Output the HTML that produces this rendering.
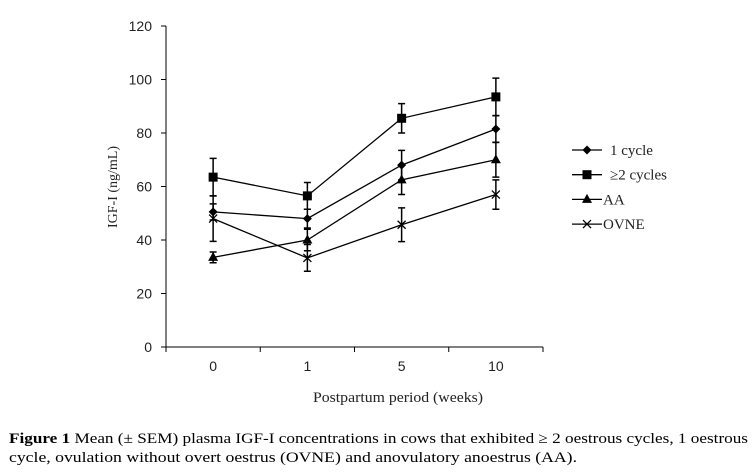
<!DOCTYPE html>
<html><head><meta charset="utf-8"><style>
html,body{margin:0;padding:0;background:#fff;}
svg{display:block;}
</style></head><body>
<svg id="chart" width="753" height="472" xmlns="http://www.w3.org/2000/svg">
<g id="axes"></g><g id="series"></g><g id="legend"></g>
<text x="313" y="402" textLength="170" lengthAdjust="spacingAndGlyphs" font-family="Liberation Serif, serif" font-size="15" fill="#222">Postpartum period (weeks)</text>
<text transform="translate(117,187) rotate(-90)" text-anchor="middle" font-family="Liberation Serif, serif" font-size="14" fill="#222">IGF-I (ng/mL)</text>
<text x="9" y="443" textLength="739" lengthAdjust="spacingAndGlyphs" font-family="Liberation Serif, serif" font-size="15" fill="#000"><tspan font-weight="bold">Figure 1</tspan> Mean (± SEM) plasma IGF-I concentrations in cows that exhibited ≥ 2 oestrous cycles, 1 oestrous</text>
<text x="9" y="462" textLength="568" lengthAdjust="spacingAndGlyphs" font-family="Liberation Serif, serif" font-size="15" fill="#000">cycle, ovulation without overt oestrus (OVNE) and anovulatory anoestrus (AA).</text>
</svg>
<script>
const categories = ["0","1","5","10"];
const yTicks = [0,20,40,60,80,100,120];
const seriesNames = ["1 cycle","≥2 cycles","AA","OVNE"];
const oneCycle = [50.5,48,68,81.5];
const oneCycleErr = [3,3.5,5.5,5];
const twoCycles = [63.5,56.5,85.5,93.5];
const twoCyclesErr = [7,5,5.5,7];
const aa = [33.5,40,62.5,70];
const aaErr = [2,4,5.5,6.5];
const ovne = [48,33.3,45.7,57];
const ovneErr = [8.5,5,6.3,5.5];

const NS="http://www.w3.org/2000/svg";
const x0=166,x1=543,yBase=347,yTop=26;
const y=v=>yBase-(v/120)*(yBase-yTop);
const bw=(x1-x0)/categories.length;
const x=i=>x0+bw*(i+0.5);
function mk(tag,attrs,parent){const e=document.createElementNS(NS,tag);for(const k in attrs)e.setAttribute(k,attrs[k]);parent.appendChild(e);return e;}
const axes=document.getElementById('axes');
let e=mk('line',{x1:x0,y1:yTop,x2:x0,y2:yBase,stroke:'#000'},axes);


e=mk('line',{x1:x0,y1:yBase,x2:x1,y2:yBase,stroke:'#000'},axes);


yTicks.forEach(t=>{
  mk('line',{x1:x0-5,y1:y(t),x2:x0,y2:y(t),stroke:'#000'},axes);
  const tx=mk('text',{x:x0-14,y:y(t)+5,'text-anchor':'end','font-family':'Liberation Sans, sans-serif','font-size':'14',fill:'#222'},axes);
  tx.textContent=t;
  
  
});
for(let i=0;i<=categories.length;i++){mk('line',{x1:x0+bw*i,y1:yBase,x2:x0+bw*i,y2:yBase+5,stroke:'#000'},axes);}
categories.forEach((c,i)=>{
  const tx=mk('text',{x:x(i),y:yBase+24,'text-anchor':'middle','font-family':'Liberation Sans, sans-serif','font-size':'14',fill:'#222'},axes);
  tx.textContent=c;
  
  
});
function marker(type,cx,cy,p){
  if(type==='diamond') return mk('polygon',{points:`${cx},${cy-4.5} ${cx+4.5},${cy} ${cx},${cy+4.5} ${cx-4.5},${cy}`,fill:'#000'},p);
  if(type==='square') return mk('rect',{x:cx-4.5,y:cy-4.5,width:9,height:9,fill:'#000'},p);
  if(type==='triangle') return mk('polygon',{points:`${cx},${cy-5.5} ${cx+5},${cy+3.5} ${cx-5},${cy+3.5}`,fill:'#000'},p);
  return mk('path',{d:`M${cx-4},${cy-4}L${cx+4},${cy+4}M${cx-4},${cy+4}L${cx+4},${cy-4}`,stroke:'#000','stroke-width':1.3},p);
}
const all=[[oneCycle,oneCycleErr,'diamond','series-1-cycle'],[twoCycles,twoCyclesErr,'square','series-2-cycles'],[aa,aaErr,'triangle','series-aa'],[ovne,ovneErr,'cross','series-ovne']];
const sg=document.getElementById('series');
all.forEach(([vals,errs,m,name])=>{
  const g=mk('g',{},sg);
  
  
  vals.forEach((v,i)=>{
    const hi=y(v+errs[i]),lo=y(v-errs[i]),cx=x(i);
    mk('path',{d:`M${cx},${hi}L${cx},${lo}M${cx-3.5},${hi}L${cx+3.5},${hi}M${cx-3.5},${lo}L${cx+3.5},${lo}`,stroke:'#000','stroke-width':1.5},g);
  });
  const pl=mk('polyline',{points:vals.map((v,i)=>x(i)+','+y(v)).join(' '),fill:'none',stroke:'#000','stroke-width':1.3},g);
  
  
  vals.forEach((v,i)=>{
    const mm=marker(m,x(i),y(v),g);
    
    
  });
});
const lg=document.getElementById('legend');
seriesNames.forEach((n,i)=>{
  const ly=150+i*24.7;
  const g=mk('g',{},lg);
  
  
  mk('line',{x1:572,y1:ly,x2:602,y2:ly,stroke:'#000','stroke-width':1.3},g);
  marker(all[i][2],587,ly,g);
  const tx=mk('text',{x:i<2?610:603,y:ly+5,'font-family':'Liberation Serif, serif','font-size':'15',fill:'#222'},g);
  tx.textContent=n;
});
</script>
</body></html>
